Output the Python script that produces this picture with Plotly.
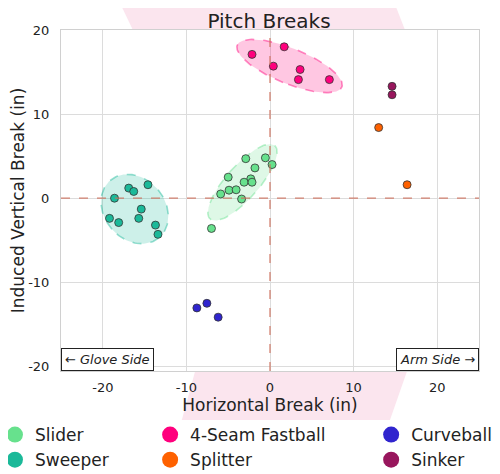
import numpy as np
import plotly.graph_objects as go

pitch_types = ["Slider", "Sweeper", "4-Seam Fastball", "Splitter", "Curveball", "Sinker"]
colors = {
    "Slider": "#67E18D",
    "Sweeper": "#1BB999",
    "4-Seam Fastball": "#FF007D",
    "Splitter": "#FE6100",
    "Curveball": "#3025CE",
    "Sinker": "#98165D",
}

slider_hb = [-2.9, -0.55, 0.25, -1.8, -5.0, -2.3, -3.1, -2.15, -4.9, -4.05, -5.9, -3.4, -7.0]
slider_ivb = [4.7, 4.8, 4.0, 3.6, 2.5, 2.3, 1.9, 1.9, 0.95, 1.0, 0.5, -0.1, -3.6]

sweeper_hb = [-14.6, -16.9, -16.3, -18.6, -15.4, -19.2, -15.7, -18.1, -13.7, -13.4]
sweeper_ivb = [1.6, 1.2, 0.8, 0.0, -1.3, -2.4, -2.4, -2.9, -3.2, -4.3]

fastball_hb = [-2.15, 1.7, 0.4, 3.6, 3.4, 7.1]
fastball_ivb = [17.1, 18.0, 15.7, 15.3, 14.1, 14.1]

splitter_hb = [13.0, 16.4]
splitter_ivb = [8.4, 1.6]

curveball_hb = [-8.75, -7.55, -6.2]
curveball_ivb = [-13.05, -12.5, -14.15]

sinker_hb = [14.6, 14.6]
sinker_ivb = [13.3, 12.3]

data = {
    "Slider": (slider_hb, slider_ivb),
    "Sweeper": (sweeper_hb, sweeper_ivb),
    "4-Seam Fastball": (fastball_hb, fastball_ivb),
    "Splitter": (splitter_hb, splitter_ivb),
    "Curveball": (curveball_hb, curveball_ivb),
    "Sinker": (sinker_hb, sinker_ivb),
}
ellipse_types = ["Slider", "Sweeper", "4-Seam Fastball"]

x_ticks = [-20, -10, 0, 10, 20]
y_ticks = [-20, -10, 0, 10, 20]


def rgba(hexc, a):
    h = hexc.lstrip("#")
    r, g, b = int(h[0:2], 16), int(h[2:4], 16), int(h[4:6], 16)
    return f"rgba({r},{g},{b},{a})"


def conf_ellipse(xs, ys, n_std=2.0, n=120):
    pts = np.vstack([xs, ys])
    mean = pts.mean(axis=1)
    cov = np.cov(pts)
    vals, vecs = np.linalg.eigh(cov)
    t = np.linspace(0, 2 * np.pi, n)
    circ = np.vstack([np.cos(t), np.sin(t)])
    ell = vecs @ (np.sqrt(vals)[:, None] * n_std * circ)
    return ell[0] + mean[0], ell[1] + mean[1]


FONT = "DejaVu Sans"
fig = go.Figure()

for pt in ellipse_types:
    ex, ey = conf_ellipse(np.array(data[pt][0]), np.array(data[pt][1]))
    fig.add_trace(go.Scatter(
        x=ex, y=ey, mode="lines", fill="toself",
        fillcolor=rgba(colors[pt], 0.22),
        line=dict(color=rgba(colors[pt], 0.45), width=1.6, dash="dash"),
        showlegend=False, hoverinfo="skip",
    ))

for pt in pitch_types:
    fig.add_trace(go.Scatter(
        x=data[pt][0], y=data[pt][1], mode="markers", name=pt,
        marker=dict(size=8, color=colors[pt], line=dict(color="#333333", width=0.8)),
        showlegend=False,
    ))

legend_groups = {
    "legend": ["Slider", "Sweeper"],
    "legend2": ["4-Seam Fastball", "Splitter"],
    "legend3": ["Curveball", "Sinker"],
}
for lg, names in legend_groups.items():
    for pt in names:
        fig.add_trace(go.Scatter(
            x=[None], y=[None], mode="markers", name=pt,
            marker=dict(size=20, color=colors[pt]),
            legend=lg, showlegend=True,
        ))

top_piece = "M 0.129,1.11 L 0.788,1.11 L 0.823,1.0 L 0.172,1.0 Z"
bottom_piece = "M 0.321,0 L 0.828,0 L 0.787,-0.144 L 0.289,-0.144 Z"

leg_common = dict(orientation="v", yanchor="top", xanchor="left",
                  font=dict(family=FONT, size=17, color="#222222"),
                  bgcolor="rgba(0,0,0,0)", borderwidth=0, tracegroupgap=0,
                  itemsizing="trace")

LEG_Y = -0.135

fig.update_layout(
    width=492, height=466,
    margin=dict(l=53, r=21, t=22, b=103, autoexpand=False),
    paper_bgcolor="white", plot_bgcolor="white",
    font=dict(family=FONT, color="#222222"),
    title=dict(text="Pitch Breaks", x=0.5305, xanchor="center", y=0.972, yanchor="middle",
               font=dict(family=FONT, size=20, color="#222222")),
    xaxis=dict(range=[-25, 25], tickvals=x_ticks, ticktext=[str(v) for v in x_ticks],
               showgrid=True, gridcolor="#dcdcdc", gridwidth=1, zeroline=False,
               showline=True, linecolor="#d0d0d0", linewidth=1, mirror=True,
               ticks="outside", ticklen=4, tickcolor="rgba(0,0,0,0)",
               tickfont=dict(family=FONT, size=13, color="#222222"),
               title=dict(text="Horizontal Break (in)", standoff=4,
                          font=dict(family=FONT, size=17, color="#222222"))),
    yaxis=dict(range=[-20.55, 20], tickvals=y_ticks, ticktext=[str(v) for v in y_ticks],
               showgrid=True, gridcolor="#dcdcdc", gridwidth=1, zeroline=False,
               showline=True, linecolor="#d0d0d0", linewidth=1, mirror=True,
               ticks="outside", ticklen=8, tickcolor="rgba(0,0,0,0)",
               tickfont=dict(family=FONT, size=13, color="#222222"),
               title=dict(text="Induced Vertical Break (in)", standoff=3,
                          font=dict(family=FONT, size=17, color="#222222"))),
    legend=dict(x=-0.158, y=LEG_Y, **leg_common),
    legend2=dict(x=0.2132, y=LEG_Y, **leg_common),
    legend3=dict(x=0.742, y=LEG_Y, **leg_common),
    shapes=[
        dict(type="path", path=top_piece, xref="paper", yref="paper",
             fillcolor="#fbe5ee", line=dict(width=0), layer="below"),
        dict(type="path", path=bottom_piece, xref="paper", yref="paper",
             fillcolor="#fbe5ee", line=dict(width=0), layer="below"),
        dict(type="line", xref="x", yref="paper", x0=0, x1=0, y0=0, y1=1,
             line=dict(color="rgba(205,110,90,0.85)", width=1.3, dash="dash"), layer="above"),
        dict(type="line", xref="paper", yref="y", x0=0, x1=1, y0=0, y1=0,
             line=dict(color="rgba(205,110,90,0.85)", width=1.3, dash="dash"), layer="above"),
    ],
    annotations=[
        dict(text="<i>← Glove Side</i>", xref="paper", yref="paper", x=0, y=0,
             xanchor="left", yanchor="bottom", showarrow=False, yshift=0,
             font=dict(family=FONT, size=13, color="#222222"),
             bgcolor="white", bordercolor="#222222", borderwidth=1, borderpad=3),
        dict(text="<i>Arm Side →</i>", xref="paper", yref="paper", x=1, y=0,
             xanchor="right", yanchor="bottom", showarrow=False, yshift=0,
             font=dict(family=FONT, size=13, color="#222222"),
             bgcolor="white", bordercolor="#222222", borderwidth=1, borderpad=3),
    ],
)

fig.write_html("out.html")
